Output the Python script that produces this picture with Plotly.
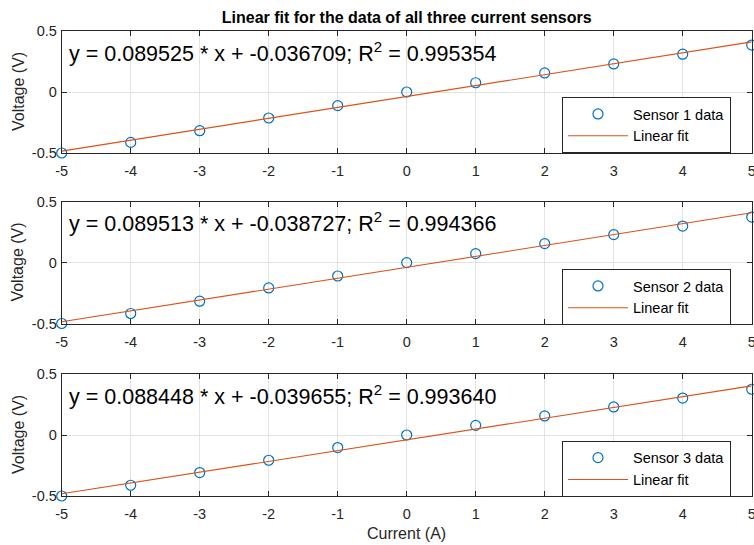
import plotly.graph_objects as go

# ---- data ----
current = [-5, -4, -3, -2, -1, 0, 1, 2, 3, 4, 5]
sensor1 = [-0.500, -0.413, -0.317, -0.213, -0.112, 0.0, 0.076, 0.156, 0.230, 0.310, 0.385]
sensor2 = [-0.500, -0.418, -0.317, -0.208, -0.110, 0.0, 0.074, 0.156, 0.230, 0.300, 0.374]
sensor3 = [-0.500, -0.412, -0.308, -0.207, -0.103, 0.0, 0.079, 0.156, 0.230, 0.303, 0.375]
slopes = [0.089525, 0.089513, 0.088448]
intercepts = [-0.036709, -0.038727, -0.039655]
r_squared = ["0.995354", "0.994366", "0.993640"]
sensor_names = ["Sensor 1 data", "Sensor 2 data", "Sensor 3 data"]
x_ticks = [-5, -4, -3, -2, -1, 0, 1, 2, 3, 4, 5]
y_ticks = [-0.5, 0, 0.5]
y_ticktext = ["-0.5", "0", "0.5"]
title_text = "Linear fit for the data of all three current sensors"

W, H = 754, 545
FONT = "Liberation Sans, Arial, Helvetica, sans-serif"
AXC = "#262626"
BLUE = "#0072BD"
ORANGE = "#D95319"

# panel pixel geometry (top, bottom) and plot area x-extent
panels_px = [(31, 153), (201.7, 323.5), (374, 496)]
x_left, x_right = 61.7, 751.7
legend_tops = [97, 269, 440.7]
legend_left = 562

fig = go.Figure()
series = [sensor1, sensor2, sensor3]
for i, ys in enumerate(series):
    n = i + 1
    xa = "x" if n == 1 else f"x{n}"
    ya = "y" if n == 1 else f"y{n}"
    lg = "legend" if n == 1 else f"legend{n}"
    fig.add_trace(go.Scatter(
        x=current, y=ys, mode="markers", name=sensor_names[i],
        xaxis=xa, yaxis=ya, legend=lg, cliponaxis=False,
        marker=dict(symbol="circle-open", size=10, color=BLUE, line=dict(width=1.2, color=BLUE)),
    ))
    xl = [min(current), max(current)]
    yl = [slopes[i] * v + intercepts[i] for v in xl]
    fig.add_trace(go.Scatter(
        x=xl, y=yl, mode="lines", name="Linear fit",
        xaxis=xa, yaxis=ya, legend=lg,
        line=dict(color=ORANGE, width=1.1),
    ))
    # equation text
    fig.add_annotation(
        x=-4.92, y=0.33, xref=xa, yref=ya, xanchor="left", yanchor="middle",
        text=f"y = {slopes[i]:.6f} * x + {intercepts[i]:.6f}; R<sup>2</sup> = {r_squared[i]}",
        showarrow=False, font=dict(family=FONT, size=21.5, color="#000000"),
    )

axis_common = dict(
    showline=True, linecolor=AXC, linewidth=1, mirror="ticks",
    ticks="inside", ticklen=5, tickcolor=AXC, tickwidth=1,
    showgrid=True, gridcolor="#e3e3e3", gridwidth=1, zeroline=False,
    tickfont=dict(family=FONT, size=14.5, color=AXC), automargin=False,
    ticklabeloverflow="allow",
)

layout = dict(
    width=W, height=H,
    margin=dict(l=0, r=0, t=0, b=0),
    paper_bgcolor="white", plot_bgcolor="white",
    showlegend=True,
    title=dict(text=f"<b>{title_text}</b>", x=(x_left + x_right) / 2 / W, xanchor="center",
               y=1 - 17 / H, yanchor="middle", yref="container", xref="container",
               font=dict(family=FONT, size=16, color="#000000")),
)

for i, (top, bot) in enumerate(panels_px):
    n = i + 1
    xk = "xaxis" if n == 1 else f"xaxis{n}"
    yk = "yaxis" if n == 1 else f"yaxis{n}"
    ya = "y" if n == 1 else f"y{n}"
    xa = "x" if n == 1 else f"x{n}"
    layout[xk] = dict(axis_common, domain=[x_left / W, x_right / W], range=[-5, 5],
                      tickvals=x_ticks, ticktext=[str(v) for v in x_ticks], anchor=ya,
                      ticklabelstandoff=5)
    layout[yk] = dict(axis_common, domain=[1 - bot / H, 1 - top / H], range=[-0.5, 0.5],
                      tickvals=y_ticks, ticktext=y_ticktext, anchor=xa,
                      ticklabelstandoff=1)
    lk = "legend" if n == 1 else f"legend{n}"
    layout[lk] = dict(
        x=legend_left / W, xanchor="left", y=1 - legend_tops[i] / H, yanchor="top",
        xref="paper", yref="paper",
        bgcolor="white", bordercolor=AXC, borderwidth=1,
        font=dict(family=FONT, size=14.5, color="#000000"),
        itemwidth=60, tracegroupgap=0,
    )
    # y axis title
    fig.add_annotation(
        x=18 / W, y=1 - ((top + bot) / 2) / H, xref="paper", yref="paper",
        text="Voltage (V)", textangle=-90, showarrow=False,
        xanchor="center", yanchor="middle",
        font=dict(family=FONT, size=16, color=AXC),
    )

fig.add_annotation(
    x=(x_left + x_right) / 2 / W, y=1 - 533 / H, xref="paper", yref="paper",
    text="Current (A)", showarrow=False, xanchor="center", yanchor="middle",
    font=dict(family=FONT, size=16, color=AXC),
)

fig.update_layout(**layout)
fig.write_html("out.html")
